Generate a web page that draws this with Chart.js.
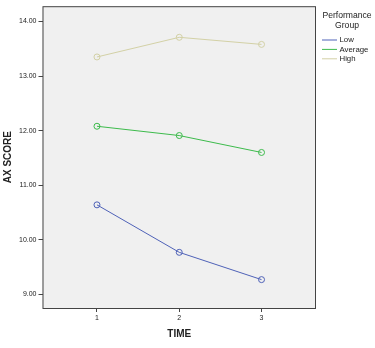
<!DOCTYPE html>
<html>
<head>
<meta charset="utf-8">
<script src="https://cdn.jsdelivr.net/npm/chart.js@4.4.1/dist/chart.umd.min.js"></script>
<style>
  html, body { margin: 0; padding: 0; background: #ffffff; }
  #wrap { width: 375px; height: 348px; }
</style>
</head>
<body>
<div id="wrap"><canvas id="chart" width="375" height="348"></canvas></div>
<script>
// data
const times = [1, 2, 3];
const groups = ['Low', 'Average', 'High'];
const lowScores = [10.64, 9.77, 9.27];
const averageScores = [12.08, 11.91, 11.60];
const highScores = [13.35, 13.71, 13.58];
const yTicks = [9, 10, 11, 12, 13, 14];

const colors = ['#4f62b8', '#3dbb4c', '#d3d1a6'];
const fontFamily = '"Liberation Sans", Arial, sans-serif';

const toPoints = (vals) => vals.map((v, i) => ({ x: times[i], y: v }));

const series = [lowScores, averageScores, highScores].map((vals, i) => ({
  label: groups[i],
  data: toPoints(vals),
  borderColor: colors[i],
  backgroundColor: 'rgba(0,0,0,0)',
  borderWidth: 1,
  pointRadius: 3,
  pointBorderWidth: 1,
  pointStyle: 'circle',
  pointBackgroundColor: 'rgba(0,0,0,0)',
  pointBorderColor: colors[i],
  tension: 0,
}));

// grey plot panel with a dark frame
const panelPlugin = {
  id: 'panel',
  beforeDraw(chart) {
    const { ctx, chartArea: a } = chart;
    ctx.save();
    ctx.fillStyle = '#f0f0f0';
    ctx.fillRect(a.left, a.top, a.right - a.left, a.bottom - a.top);
    ctx.restore();
  },
  afterDatasetsDraw(chart) {
    const { ctx, chartArea: a } = chart;
    ctx.save();
    ctx.strokeStyle = '#444444';
    ctx.lineWidth = 1;
    ctx.strokeRect(a.left + 0.5, a.top + 0.5, a.right - a.left - 1, a.bottom - a.top);
    ctx.restore();
  },
};

// SPSS-style legend on the right
const legendPlugin = {
  id: 'spssLegend',
  afterDraw(chart) {
    const { ctx } = chart;
    ctx.save();
    ctx.fillStyle = '#222222';
    ctx.textAlign = 'center';
    ctx.textBaseline = 'middle';
    ctx.font = '8.6px ' + fontFamily;
    ctx.fillText('Performance', 347, 16);
    ctx.fillText('Group', 347, 25.5);
    ctx.textAlign = 'left';
    ctx.font = '7.8px ' + fontFamily;
    chart.data.datasets.forEach((ds, i) => {
      const y = 39.5 + i * 9.4;
      ctx.strokeStyle = ds.borderColor;
      ctx.lineWidth = 1;
      ctx.beginPath();
      ctx.moveTo(322, y + 0.5);
      ctx.lineTo(337, y + 0.5);
      ctx.stroke();
      ctx.fillText(ds.label, 339.5, y + 0.5);
    });
    ctx.restore();
  },
};

new Chart(document.getElementById('chart'), {
  type: 'line',
  data: { datasets: series },
  plugins: [panelPlugin, legendPlugin],
  options: {
    responsive: false,
    animation: false,
    devicePixelRatio: 1,
    layout: { padding: { top: 6, right: 59, left: 2, bottom: 8 } },
    plugins: {
      legend: { display: false },
      tooltip: { enabled: false },
    },
    scales: {
      x: {
        type: 'linear',
        min: 0.338,
        max: 3.662,
        afterBuildTicks: (axis) => { axis.ticks = times.map((t) => ({ value: t })); },
        afterFit: (axis) => { axis.height = 32; },
        grid: { drawOnChartArea: false, drawTicks: true, tickLength: 4, color: '#444444' },
        border: { display: false },
        ticks: {
          color: '#222222',
          font: { family: fontFamily, size: 7 },
          padding: 2,
          maxRotation: 0,
          callback: (v) => String(v),
        },
        title: {
          display: true,
          text: 'TIME',
          color: '#222222',
          font: { family: fontFamily, size: 10, weight: 'bold' },
          padding: { top: 8, bottom: 0 },
        },
      },
      y: {
        type: 'linear',
        min: 8.75,
        max: 14.28,
        afterBuildTicks: (axis) => { axis.ticks = yTicks.map((t) => ({ value: t })); },
        afterFit: (axis) => { axis.width = 40.5; },
        grid: { drawOnChartArea: false, drawTicks: true, tickLength: 4, color: '#444444' },
        border: { display: false },
        ticks: {
          color: '#222222',
          font: { family: fontFamily, size: 7 },
          padding: 2,
          callback: (v) => Number(v).toFixed(2),
        },
        title: {
          display: true,
          text: 'AX SCORE',
          color: '#222222',
          font: { family: fontFamily, size: 10, weight: 'bold' },
          padding: { top: 0, bottom: 0 },
        },
      },
    },
  },
});
</script>
</body>
</html>
